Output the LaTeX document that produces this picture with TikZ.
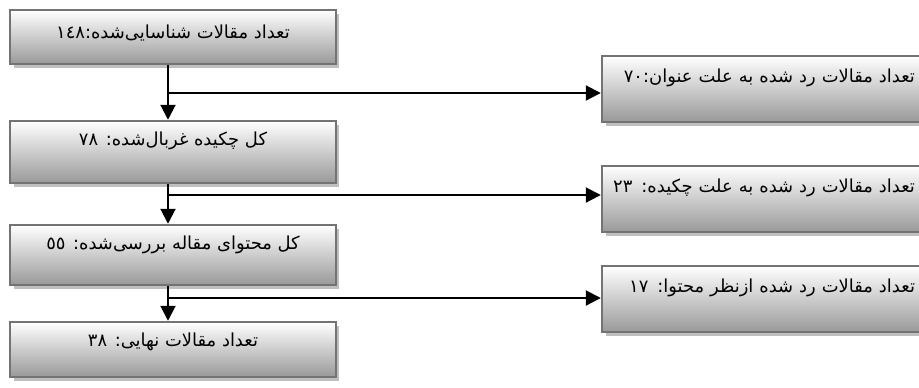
\documentclass[tikz,border=0pt]{standalone}
\usepackage{fontspec}
\usepackage{tikz}
\usetikzlibrary{arrows.meta}
\usetikzlibrary{shadows}
\usetikzlibrary{positioning}

\TeXXeTstate=1
\newfontfamily\arabicfont[Script=Arabic]{DejaVu Sans}

\tikzset{
  box/.style={rectangle, draw=black!55, line width=0.05cm, inner ysep=0pt,
    drop shadow={shadow xshift=0.07cm, shadow yshift=-0.08cm, fill=black!25, opacity=1},
    shade, top color=white, bottom color=black!40,
    font=\arabicfont\fontsize{10.2}{12}\selectfont},
  leftbox/.style={box, minimum width=6.52cm, text height=0.48cm},
  rightbox/.style={box, text width=6.06cm, align=right, inner xsep=0.2cm,
    text height=0.52cm, text depth=0.8cm},
  flow/.style={line width=0.04cm, -{Triangle[width=0.3cm,length=0.3cm]}}
}

\begin{document}
\begin{tikzpicture}[x=0.02cm, y=-0.02cm]
  \useasboundingbox (0,0) rectangle (919,387);
  \clip (0,0) rectangle (919,387);

  % main column
  \node [leftbox, text height=0.56cm, text depth=0.52cm] (b1) at (173,37) {\beginR تعداد مقالات شناسایی‌شده:١٤٨\endR};
  \node [leftbox, text depth=0.76cm] (b2) at (173,152) {\beginR کل چکیده غربال‌شده: ٧٨\endR};
  \node [leftbox, text depth=0.72cm] (b3) at (173,255) {\beginR کل محتوای مقاله بررسی‌شده: ٥٥\endR};
  \node [leftbox, text depth=0.62cm] (b4) at (173,349.5) {\beginR تعداد مقالات نهایی: ٣٨\endR};

  % excluded
  \node [rightbox] (r1) at (763.5,89) {\mbox{\beginR تعداد مقالات رد شده به علت عنوان:٧٠\endR}};
  \node [rightbox] (r2) at (763.5,199) {\mbox{\beginR تعداد مقالات رد شده به علت چکیده: ٢٣\endR}};
  \node [rightbox] (r3) at (763.5,299) {\mbox{\beginR تعداد مقالات رد شده ازنظر محتوا: ١٧\endR}};

  \coordinate (j1) at (168,93);
  \coordinate (j2) at (168,195);
  \coordinate (j3) at (168,298);

  \draw [flow] (b1.south -| j1) -- (b2.north -| j1);
  \draw [flow] (b2.south -| j2) -- (b3.north -| j2);
  \draw [flow] (b3.south -| j3) -- (b4.north -| j3);
  \draw [flow] (j1) -- (j1 -| r1.west);
  \draw [flow] (j2) -- (j2 -| r2.west);
  \draw [flow] (j3) -- (j3 -| r3.west);
\end{tikzpicture}
\end{document}
